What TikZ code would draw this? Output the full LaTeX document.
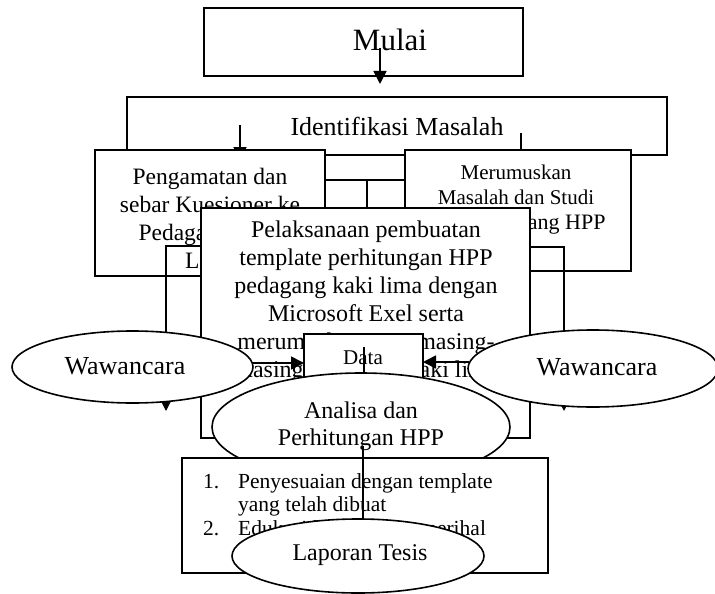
\documentclass[tikz,border=0pt]{standalone}
\usepackage{fontspec}
\setmainfont{Liberation Serif}
\usetikzlibrary{arrows.meta,shapes.geometric}
\newcommand{\fsz}[2]{\fontsize{#1}{#2}\selectfont}
\begin{document}
\begin{tikzpicture}[x=1pt,y=-1pt,
  box/.style={draw, fill=white, line width=1.6pt, inner sep=0pt, rectangle},
  oval/.style={draw, fill=white, ellipse, line width=1.6pt, inner sep=0pt},
  conn/.style={line width=1.6pt},
  arr/.style={line width=1.6pt, -{Triangle[length=13pt,width=13pt]}},
  txt/.style={inner sep=0pt, align=center}]
\useasboundingbox (0,0) rectangle (715,594);

% Mulai
\node[box, minimum width=319pt, minimum height=68pt] (mulai) at (363.5,42) {};
\node[txt, font=\fsz{31}{31}] (tmulai) at (390,40) {Mulai};
\coordinate (a1) at (380,48); \coordinate (a2) at (380,84);
\draw[arr] (a1) -- (a2);

% Identifikasi
\node[box, minimum width=540pt, minimum height=58pt] (ident) at (397,126) {};
\node[txt, font=\fsz{26}{26}] (tident) at (397,126) {Identifikasi Masalah};
\coordinate (b1) at (240,125); \coordinate (b2) at (240,160);
\draw[arr] (b1) -- (b2);
\coordinate (c1) at (521,133); \coordinate (c2) at (521,166);
\draw[arr] (c1) -- (c2);

% Pengamatan / Merumuskan
\node[box, minimum width=230pt, minimum height=126pt] (peng) at (210,213) {};
\node[txt, font=\fsz{23.5}{28}] (tpeng) at (210,218) {Pengamatan dan\\sebar Kuesioner ke\\Pedagang Kaki\\Lima};
\node[box, minimum width=226pt, minimum height=121pt] (merum) at (518,210.5) {};
\node[txt, font=\fsz{21}{25}] (tmerum) at (516,200) {Merumuskan\\Masalah dan Studi\\{\fsz{22}{25}Literatur tentang HPP\hspace*{14pt}}};

\coordinate (d1) at (325,180); \coordinate (d2) at (405,180);
\draw[conn] (d1) -- (d2);
\coordinate (d3) at (367,180); \coordinate (d4) at (367,208);
\draw[conn] (d3) -- (d4);

\coordinate (e1) at (201,246); \coordinate (e2) at (166,411);
\draw[arr] (e1) -| (e2);
\coordinate (f1) at (530,247); \coordinate (f2) at (564,411);
\draw[arr] (f1) -| (f2);

% Pelaksanaan
\node[box, minimum width=329pt, minimum height=230pt] (pel) at (365.5,323) {};
\node[txt, font=\fsz{24}{28}] (tpel) at (366,302) {Pelaksanaan pembuatan\\template perhitungan HPP\\pedagang kaki lima dengan\\Microsoft Exel serta\\merumuskan HPP masing-\\masing pedagang kaki lima};

% Data
\node[box, minimum width=119pt, minimum height=51pt] (data) at (363.5,359.5) {};
\node[txt, font=\fsz{21}{21}] (tdata) at (363,358) {Data};
\coordinate (g1) at (364,347); \coordinate (g2) at (364,392);
\draw[arr] (g1) -- (g2);

% Wawancara
\node[oval, minimum width=241pt, minimum height=72pt] (wl) at (132.5,367) {};
\node[txt, font=\fsz{26}{26}] (twl) at (125,366) {Wawancara};
\node[oval, minimum width=250pt, minimum height=77pt] (wr) at (593,368.5) {};
\node[txt, font=\fsz{26}{26}] (twr) at (597,367) {Wawancara};
\coordinate (h1) at (252,363); \coordinate (h2) at (304,363);
\draw[arr] (h1) -- (h2);
\coordinate (i1) at (469,362); \coordinate (i2) at (423,362);
\draw[arr] (i1) -- (i2);

% Analisa
\node[oval, minimum width=298pt, minimum height=108pt] (ana) at (361,427) {};
\node[txt, font=\fsz{24}{27}] (tana) at (361,426.5) {Analisa dan\\Perhitungan HPP};

% List box
\node[box, minimum width=366pt, minimum height=115pt] (list) at (365,515.5) {};
\node[inner sep=0pt, anchor=base west, font=\fsz{21.5}{21.5}] (n1) at (203,488) {1.};
\node[inner sep=0pt, anchor=base west, font=\fsz{21.5}{21.5}] (l1) at (238,488) {Penyesuaian dengan template};
\node[inner sep=0pt, anchor=base west, font=\fsz{21.5}{21.5}] (l2) at (238,511) {yang telah dibuat};
\node[inner sep=0pt, anchor=base west, font=\fsz{21.5}{21.5}] (n2) at (203,535) {2.};
\node[inner sep=0pt, anchor=base west, font=\fsz{21.5}{21.5}] (l3) at (238,535) {Edukasi ke pedagang perihal};

\coordinate (j1) at (363,446); \coordinate (j2) at (363,532);
\draw[arr] (j1) -- (j2);

% Laporan
\node[oval, minimum width=252pt, minimum height=74pt] (lap) at (358,556) {};
\node[txt, font=\fsz{24}{24}] (tlap) at (360,555) {Laporan Tesis};
\end{tikzpicture}
\end{document}
